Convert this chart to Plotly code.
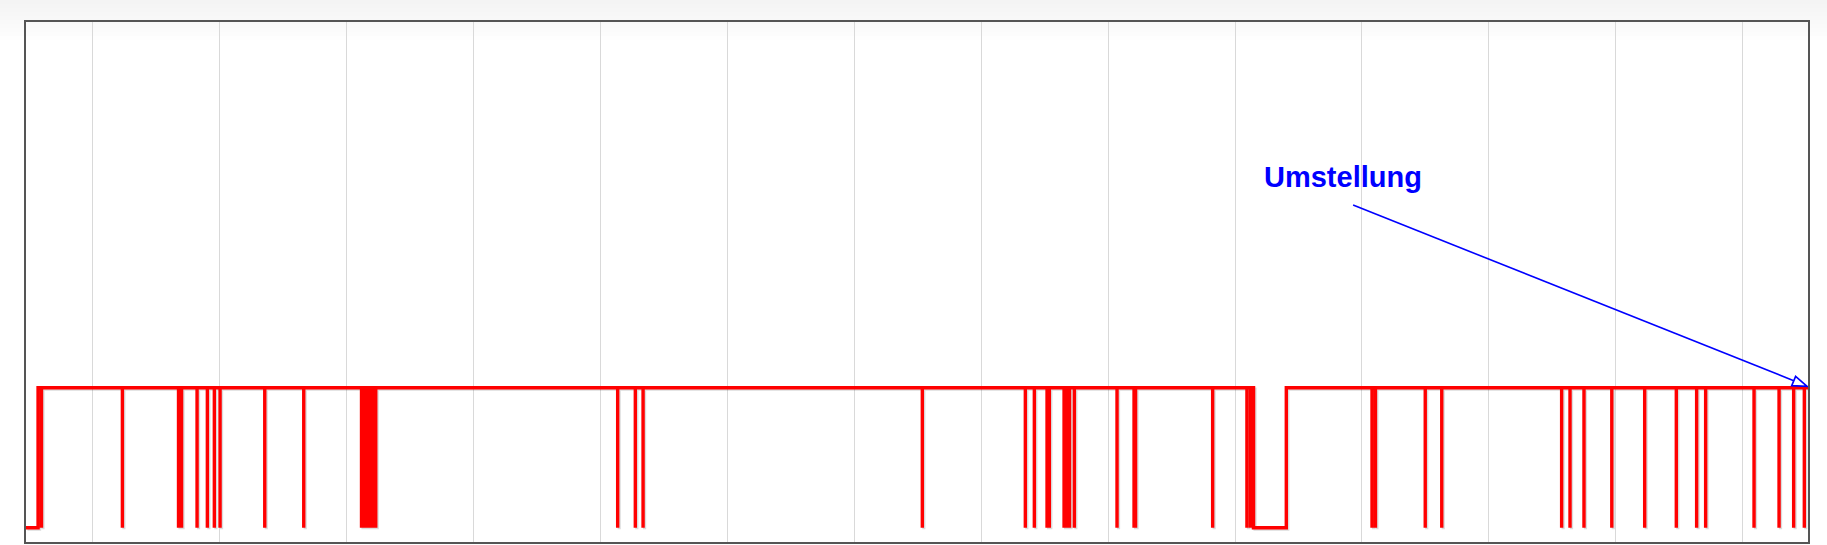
import plotly.graph_objects as go

# ---- data (time axis in days; gridlines at whole days) ----
series_start = -0.52          # left edge of record (state low)
first_rise = -0.425           # state switches to high
spike_times = [
    -0.398, 0.239, 0.681, 0.705, 0.827, 0.908, 0.963, 1.008, 1.360, 1.667,
    2.122, 2.146, 2.169, 2.193, 2.213, 2.234, 4.139, 4.278, 4.339, 6.538,
    7.349, 7.420, 7.520, 7.538, 7.654, 7.675, 7.697, 7.735, 8.071, 8.205,
    8.217, 8.824, 9.094, 9.122,
    10.079, 10.106, 10.498, 10.628, 11.572, 11.638, 11.748, 11.967, 12.226,
    12.475, 12.635, 12.706, 13.087, 13.284, 13.399, 13.483,
]
outage_start = 9.146
outage_end = 9.404
series_end = 13.512
low_level = 0
high_level = 1

# ---- build step path from the events ----
xs = [series_start, first_rise, first_rise]
ys = [low_level, low_level, high_level]
events = sorted([(t, "spike") for t in spike_times] + [(outage_start, "out")])
for t, kind in events:
    if kind == "spike":
        xs += [t, t, t]
        ys += [high_level, low_level, high_level]
    else:
        xs += [outage_start, outage_start, outage_end, outage_end]
        ys += [high_level, low_level, low_level, high_level]
xs.append(series_end)
ys.append(high_level)

fig = go.Figure()
# soft shadow
fig.add_trace(go.Scatter(
    x=[v + 1.5 / 127 for v in xs], y=[v - 1.5 / 140 for v in ys],
    mode="lines", line=dict(color="rgba(0,0,0,0.14)", width=3.2),
    hoverinfo="skip", showlegend=False))
fig.add_trace(go.Scatter(
    x=xs, y=ys, mode="lines", line=dict(color="#ff0000", width=3.4),
    showlegend=False, name="Zustand"))

# top gradient of the page
n = 10
shapes = []
for i in range(n):
    c = int(244 + (254 - 244) * i / (n - 1))
    shapes.append(dict(type="rect", xref="paper", yref="paper",
                       x0=-0.02, x1=1.02,
                       y0=1 + (22 - 4 * (i + 1)) / 520,
                       y1=1 + (22 - 4 * i) / 520,
                       fillcolor=f"rgb({c},{c},{c})", line=dict(width=0),
                       layer="below"))
# arrow shaft
shapes.append(dict(type="line", xref="x", yref="y",
                   x0=9.93, y0=2.305, x1=13.40, y1=1.05,
                   line=dict(color="#0000ff", width=1.6)))
# hollow arrow head
shapes.append(dict(type="path", xref="x", yref="y",
                   xsizemode="pixel", ysizemode="pixel",
                   xanchor=13.505, yanchor=1.01,
                   path="M 0 0 L -11.5 10.0 L -15.4 0.7 Z",
                   line=dict(color="#0000ff", width=1.7),
                   fillcolor="white"))

fig.update_layout(
    width=1827, height=545,
    margin=dict(l=26, r=19, t=22, b=3),
    paper_bgcolor="white",
    plot_bgcolor="rgba(0,0,0,0)",
    shapes=shapes,
    xaxis=dict(range=[-0.52, 13.512], tick0=0, dtick=1, showgrid=True,
               gridcolor="#d9d9d9", gridwidth=1, showticklabels=False,
               ticks="", zeroline=False, showline=True, linecolor="#555555",
               linewidth=2, mirror=True),
    yaxis=dict(range=[-0.102, 3.612], showgrid=False, showticklabels=False,
               ticks="", zeroline=False, showline=True, linecolor="#555555",
               linewidth=2, mirror=True),
    annotations=[dict(x=9.85, y=2.505, xref="x", yref="y", text="<b>Umstellung</b>",
                      showarrow=False,
                      font=dict(family="Liberation Sans, Arial", size=29, color="#0000ff"))],
)

fig.write_html("out.html", config={"displayModeBar": False},
               post_script="document.body.style.margin='0';document.body.style.overflow='hidden';")
